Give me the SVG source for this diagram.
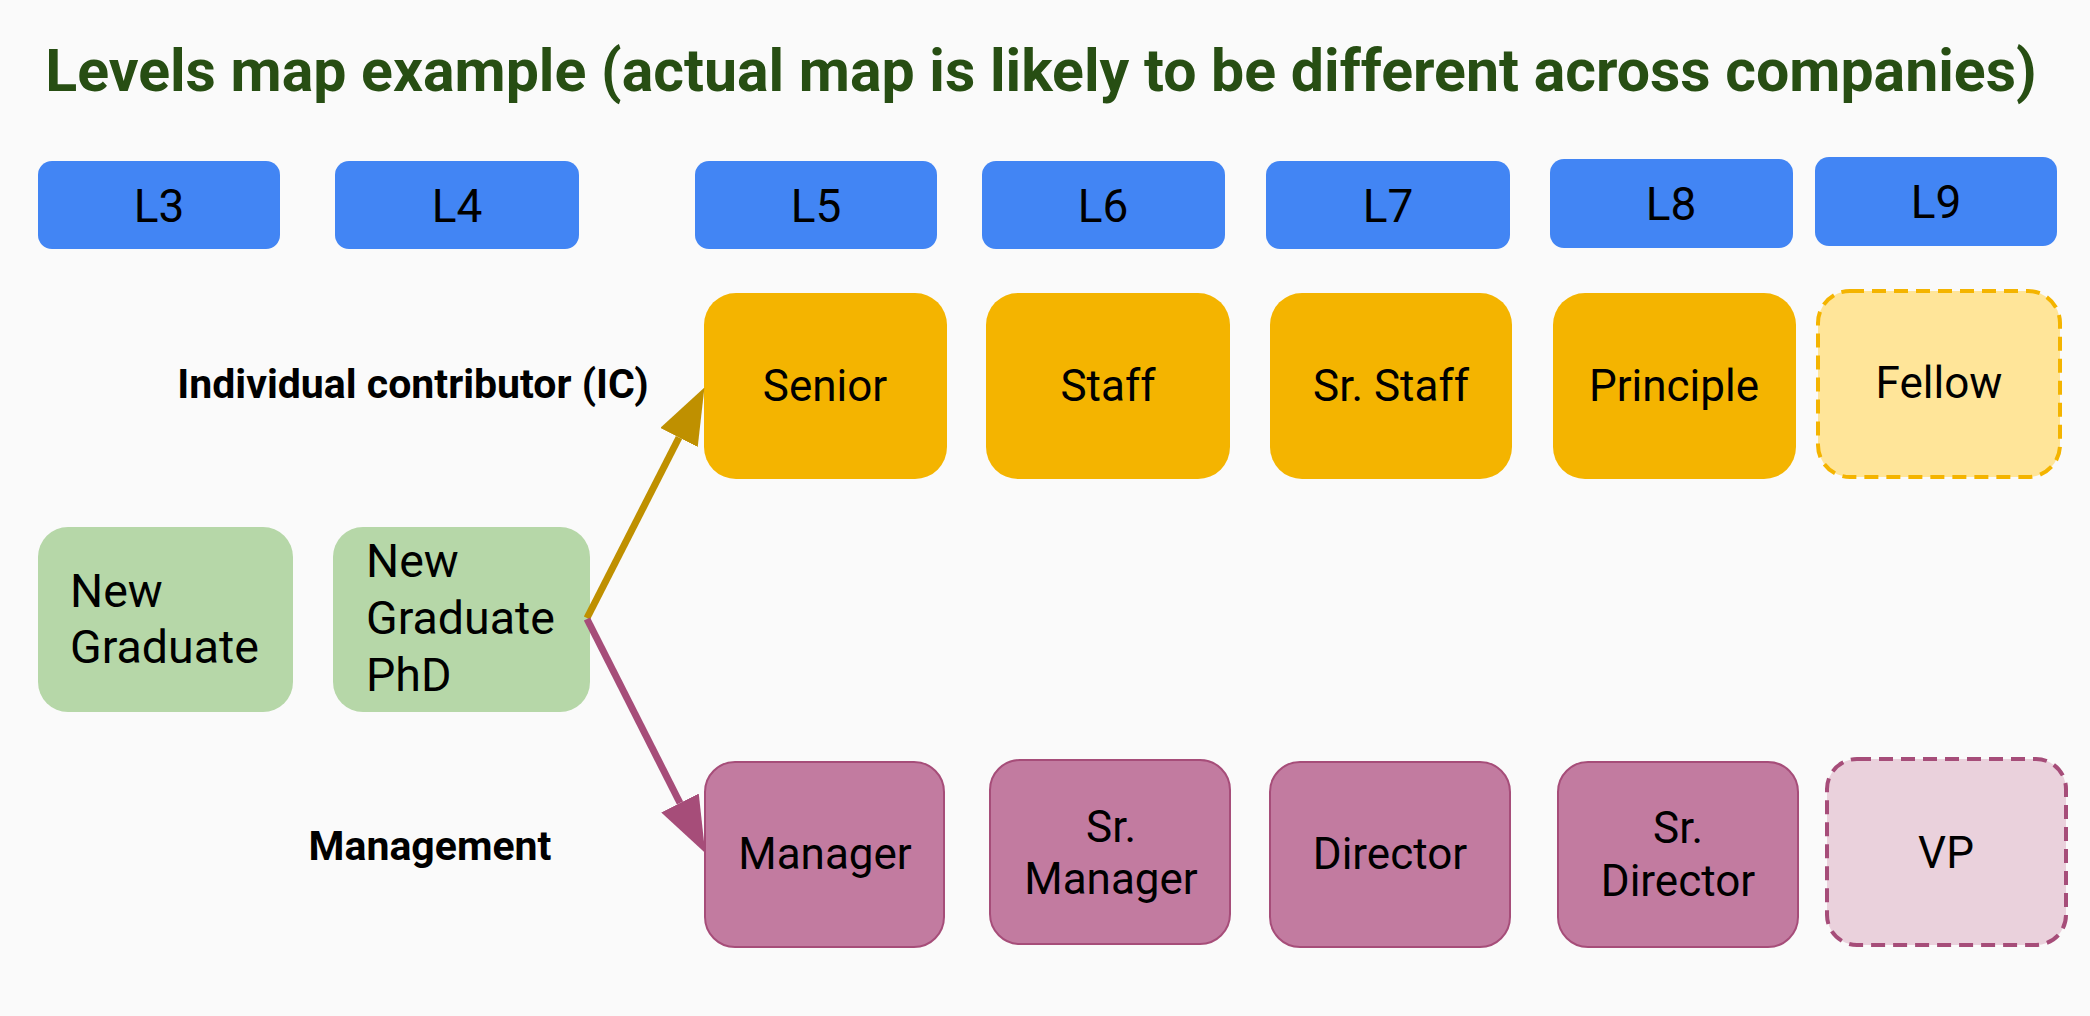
<svg xmlns="http://www.w3.org/2000/svg" width="2090" height="1016" viewBox="0 0 2090 1016">
<style>
text{font-family:Roboto,"Liberation Sans",sans-serif;fill:#000}
.title{font-size:59px;font-weight:bold;fill:#274e13}
.lvl rect{fill:#4285f4}
.lvl text{font-size:46px;text-anchor:middle}
.ic rect{fill:#f4b400}
.icd rect{fill:#ffe599;stroke:#f4b400;stroke-width:4;stroke-dasharray:14 8}
.mg rect{fill:#c27ba0;stroke:#a64d79;stroke-width:2}
.mgd rect{fill:#ead1dc;stroke:#a64d79;stroke-width:4;stroke-dasharray:14 8}
.ng rect{fill:#b6d7a8}
.lbl{font-size:44px;text-anchor:middle}
.lft{font-size:46.5px}
.side{font-size:41px;font-weight:bold;text-anchor:middle}
</style>
<defs>
<marker id="ahO" viewBox="0 0 56 42" markerWidth="56" markerHeight="42" refX="0" refY="21" orient="auto" markerUnits="userSpaceOnUse"><path d="M0,0 L56,21 L0,42 z" fill="#bf9000"/></marker>
<marker id="ahP" viewBox="0 0 56 42" markerWidth="56" markerHeight="42" refX="0" refY="21" orient="auto" markerUnits="userSpaceOnUse"><path d="M0,0 L56,21 L0,42 z" fill="#a64d79"/></marker>
</defs>
<rect x="0" y="0" width="2090" height="1016" fill="#fafafa"/>
<text class="title" x="1041" y="91" text-anchor="middle">Levels map example (actual map is likely to be different across companies)</text>

<g id="L3" class="lvl"><rect x="38" y="161" width="242" height="88" rx="14"/><text x="159" y="222">L3</text></g>
<g id="L4" class="lvl"><rect x="335" y="161" width="244" height="88" rx="14"/><text x="457" y="222">L4</text></g>
<g id="L5" class="lvl"><rect x="695" y="161" width="242" height="88" rx="14"/><text x="816" y="222">L5</text></g>
<g id="L6" class="lvl"><rect x="982" y="161" width="243" height="88" rx="14"/><text x="1103" y="222">L6</text></g>
<g id="L7" class="lvl"><rect x="1266" y="161" width="244" height="88" rx="14"/><text x="1388" y="222">L7</text></g>
<g id="L8" class="lvl"><rect x="1550" y="159" width="243" height="89" rx="14"/><text x="1671" y="220">L8</text></g>
<g id="L9" class="lvl"><rect x="1815" y="157" width="242" height="89" rx="14"/><text x="1936" y="218">L9</text></g>

<text class="side" x="413" y="398">Individual contributor (IC)</text>
<text class="side" x="430" y="860">Management</text>

<g id="senior" class="ic"><rect x="704" y="293" width="243" height="186" rx="32"/><text class="lbl" x="825" y="401">Senior</text></g>
<g id="staff" class="ic"><rect x="986" y="293" width="244" height="186" rx="32"/><text class="lbl" x="1108" y="401">Staff</text></g>
<g id="srstaff" class="ic"><rect x="1270" y="293" width="242" height="186" rx="32"/><text class="lbl" x="1391" y="401">Sr. Staff</text></g>
<g id="principle" class="ic"><rect x="1553" y="293" width="243" height="186" rx="32"/><text class="lbl" x="1674" y="401">Principle</text></g>
<g id="fellow" class="icd"><rect x="1818" y="291" width="242" height="186" rx="32"/><text class="lbl" x="1939" y="398">Fellow</text></g>

<g id="newgrad" class="ng"><rect x="38" y="527" width="255" height="185" rx="30"/><text class="lft" x="70" y="607">New</text><text class="lft" x="70" y="663">Graduate</text></g>
<g id="newgradphd" class="ng"><rect x="333" y="527" width="257" height="185" rx="30"/><text class="lft" x="366" y="577">New</text><text class="lft" x="366" y="634">Graduate</text><text class="lft" x="366" y="691">PhD</text></g>

<g id="manager" class="mg"><rect x="705" y="762" width="239" height="185" rx="30"/><text class="lbl" x="825" y="869">Manager</text></g>
<g id="srmanager" class="mg"><rect x="990" y="760" width="240" height="184" rx="30"/><text class="lbl" x="1111" y="842">Sr.</text><text class="lbl" x="1111" y="894">Manager</text></g>
<g id="director" class="mg"><rect x="1270" y="762" width="240" height="185" rx="30"/><text class="lbl" x="1390" y="869">Director</text></g>
<g id="srdirector" class="mg"><rect x="1558" y="762" width="240" height="185" rx="30"/><text class="lbl" x="1678" y="843">Sr.</text><text class="lbl" x="1678" y="896">Director</text></g>
<g id="vp" class="mgd"><rect x="1827" y="759" width="239" height="186" rx="30"/><text class="lbl" x="1946" y="868">VP</text></g>

<g id="connectors" fill="none" stroke-width="7">
<path d="M587,618 L679,437.5" stroke="#bf9000" marker-end="url(#ahO)"/>
<path d="M587,619 L680,803" stroke="#a64d79" marker-end="url(#ahP)"/>
</g>
</svg>
